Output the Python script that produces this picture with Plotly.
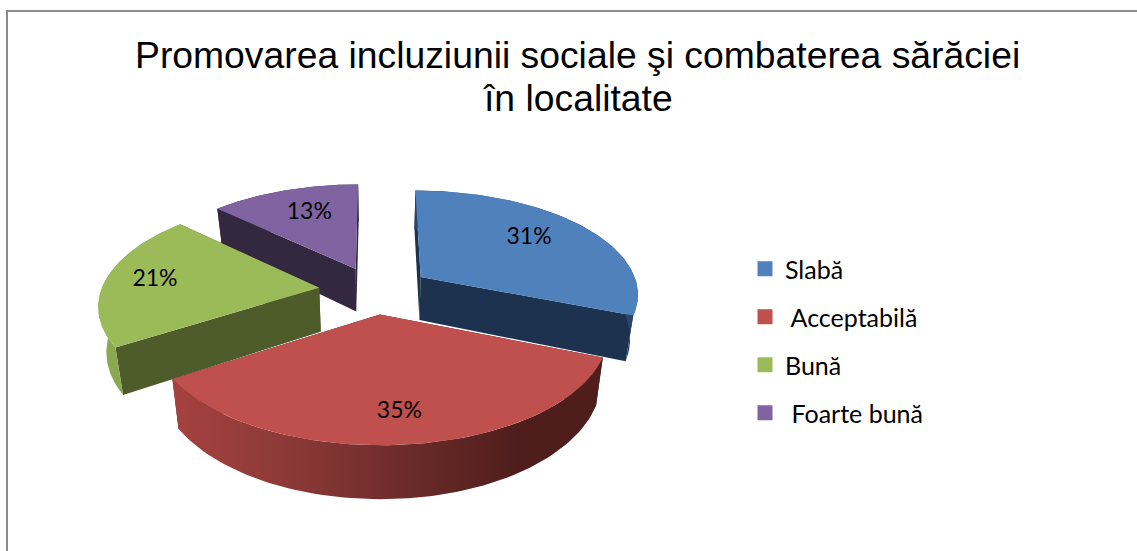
import numpy as np
import plotly.graph_objects as go

# --- data ---
categories = ["Slabă", " Acceptabilă", "Bună", " Foarte bună"]
values = [31, 35, 21, 13]
labels = ["31%", "35%", "21%", "13%"]
title_lines = ["Promovarea incluziunii sociale şi combaterea sărăciei", "în localitate"]

# --- styles ---
top_colors = ["#4f81bd", "#c0504d", "#9bbb59", "#8064a2"]
wall_colors = ["#1d324e", "#4f1e1c", "#4e5b2b", "#33283f"]
rim_colors = ["#2a4568", None, "#8aa84f", "#33283f"]
draw_order = [3, 2, 0, 1]
label_radius = [0.69, 0.78, 0.77, 0.68]
label_turn_deg = [-3, 0, 0, 2]
slice_nudge = [5, 0, -6, 0]

# projection parameters (pixels)
CX, CY, RX, RY, K, DEPTH, PULL, TAPER = 375.0, 290.0, 218.0, 103.0, 0.15, 44.0, 0.23, 0.97


def project(u, v, z=0.0, nudge=0.0):
    s = 1.0 / (1.0 - K * v)
    taper = TAPER if z else 1.0
    return CX + nudge + RX * u * s * taper, CY + RY * v * s + z * s


def slice_geometry(t0, t1, n=80):
    mid = (t0 + t1) / 2
    ou, ov = PULL * np.sin(mid), -PULL * np.cos(mid)
    t = np.linspace(t0, t1, n)
    return ou + np.sin(t), ov - np.cos(t), ou, ov


fig = go.Figure()

fractions = np.cumsum([0] + values) / sum(values)
angles = 2 * np.pi * fractions
geoms = {i: slice_geometry(angles[i], angles[i + 1]) for i in range(len(values))}


def poly(x, y, color=None, **kw):
    fig.add_trace(go.Scatter(x=x, y=y, mode="lines", fill="toself",
                             fillcolor=color, line=dict(width=0),
                             hoverinfo="skip", showlegend=False, **kw))


for i in draw_order:
    u, v, ou, ov = geoms[i]
    n = slice_nudge[i]
    xa, ya = project(u, v, 0, n)
    xb, yb = project(u, v, DEPTH, n)
    tx0, ty0 = project(np.array([ou]), np.array([ov]), 0, n)
    tx1, ty1 = project(np.array([ou]), np.array([ov]), DEPTH, n)
    # both radial cut walls; the top face hides whichever one faces away
    for end in (0, -1):
        poly([tx0[0], xa[end], xb[end], tx1[0]],
             [ty0[0], ya[end], yb[end], ty1[0]], wall_colors[i])
    # outer rim: the curved side, bottom edge reversed
    rx = np.r_[xa, xb[::-1]]
    ry = np.r_[ya, yb[::-1]]
    if i == 1:
        poly(rx, ry, fillgradient=dict(type="horizontal",
             colorscale=[[0, "#a5423f"], [0.25, "#8e3a38"], [0.55, "#6b2b29"],
                         [0.8, "#4f1e1c"], [1, "#4f1e1c"]]))
    else:
        poly(rx, ry, rim_colors[i])
    # top surface
    poly(np.r_[tx0, xa], np.r_[ty0, ya], top_colors[i])

# percentage labels sit on the top faces
lx, ly = [], []
for i in range(len(values)):
    mid = (angles[i] + angles[i + 1]) / 2
    a_l = mid + np.radians(label_turn_deg[i])
    _, _, ou, ov = geoms[i]
    a, b = project(ou + label_radius[i] * np.sin(a_l), ov - label_radius[i] * np.cos(a_l),
                   0, slice_nudge[i])
    lx.append(float(a))
    ly.append(float(b))
fig.add_trace(go.Scatter(x=lx, y=ly, mode="text", text=labels,
                         textfont=dict(family="Lato", size=23, color="#000000"),
                         hoverinfo="skip", showlegend=False))

# legend
for i, name in enumerate(categories):
    fig.add_trace(go.Scatter(x=[None], y=[None], mode="markers", name=name,
                             legendgroup=f"g{i}",
                             marker=dict(symbol="square", size=15, color=top_colors[i])))

fig.update_layout(
    width=1137, height=551,
    margin=dict(l=0, r=0, t=0, b=0),
    paper_bgcolor="white", plot_bgcolor="white",
    xaxis=dict(range=[0, 1137], visible=False, fixedrange=True),
    yaxis=dict(range=[551, 0], visible=False, fixedrange=True),
    showlegend=True,
    legend=dict(x=745 / 1137, y=1 - 246 / 551, xanchor="left", yanchor="top",
                font=dict(family="Lato", size=25, color="#000000"),
                tracegroupgap=12.5, itemwidth=30, bgcolor="rgba(0,0,0,0)"),
    shapes=[dict(type="rect", xref="x", yref="y", x0=7, y0=11, x1=1200, y1=620,
                 line=dict(color="#8c8c8c", width=2), fillcolor="rgba(0,0,0,0)", layer="below")],
    annotations=[dict(text=line, x=577.5, y=y, xref="x", yref="y", showarrow=False,
                      xanchor="center", yanchor="middle",
                      font=dict(family="Liberation Sans", size=37.3, color="#000000"))
                 for line, y in zip(title_lines, [55, 98])],
)

fig.write_html("out.html", config={"displayModeBar": False},
               post_script="document.body.style.margin='0';document.body.style.overflow='hidden';")
